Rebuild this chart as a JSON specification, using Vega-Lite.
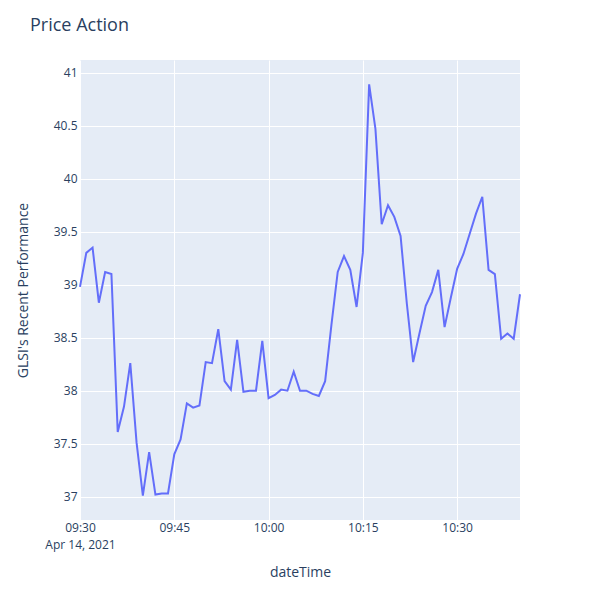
{
  "$schema": "https://vega.github.io/schema/vega-lite/v6.json",
  "width": 440,
  "height": 460,
  "autosize": {"type": "none"},
  "padding": {"left": 80, "top": 60, "right": 80, "bottom": 80},
  "background": "white",
  "title": {
    "text": "Price Action",
    "anchor": "start",
    "frame": "group",
    "dx": -50,
    "offset": 25,
    "font": "Open Sans",
    "fontSize": 18,
    "fontWeight": "normal",
    "color": "#2a3f5f"
  },
  "config": {
    "view": {"fill": "#e5ecf6", "stroke": null},
    "axis": {
      "domain": false,
      "ticks": false,
      "gridColor": "white",
      "gridWidth": 1,
      "labelFont": "Open Sans",
      "labelFontSize": 12,
      "labelColor": "#2a3f5f",
      "titleFont": "Open Sans",
      "titleFontSize": 14,
      "titleFontWeight": "normal",
      "titleColor": "#2a3f5f"
    }
  },
  "data": {
    "values": [
      {"t": "2021-04-14T09:30:00", "p": 38.98},
      {"t": "2021-04-14T09:31:00", "p": 39.30},
      {"t": "2021-04-14T09:32:00", "p": 39.35},
      {"t": "2021-04-14T09:33:00", "p": 38.83},
      {"t": "2021-04-14T09:34:00", "p": 39.12},
      {"t": "2021-04-14T09:35:00", "p": 39.10},
      {"t": "2021-04-14T09:36:00", "p": 37.61},
      {"t": "2021-04-14T09:37:00", "p": 37.85},
      {"t": "2021-04-14T09:38:00", "p": 38.26},
      {"t": "2021-04-14T09:39:00", "p": 37.51},
      {"t": "2021-04-14T09:40:00", "p": 37.01},
      {"t": "2021-04-14T09:41:00", "p": 37.42},
      {"t": "2021-04-14T09:42:00", "p": 37.02},
      {"t": "2021-04-14T09:43:00", "p": 37.03},
      {"t": "2021-04-14T09:44:00", "p": 37.03},
      {"t": "2021-04-14T09:45:00", "p": 37.40},
      {"t": "2021-04-14T09:46:00", "p": 37.54},
      {"t": "2021-04-14T09:47:00", "p": 37.88},
      {"t": "2021-04-14T09:48:00", "p": 37.84},
      {"t": "2021-04-14T09:49:00", "p": 37.86},
      {"t": "2021-04-14T09:50:00", "p": 38.27},
      {"t": "2021-04-14T09:51:00", "p": 38.26},
      {"t": "2021-04-14T09:52:00", "p": 38.58},
      {"t": "2021-04-14T09:53:00", "p": 38.09},
      {"t": "2021-04-14T09:54:00", "p": 38.01},
      {"t": "2021-04-14T09:55:00", "p": 38.48},
      {"t": "2021-04-14T09:56:00", "p": 37.99},
      {"t": "2021-04-14T09:57:00", "p": 38.00},
      {"t": "2021-04-14T09:58:00", "p": 38.00},
      {"t": "2021-04-14T09:59:00", "p": 38.47},
      {"t": "2021-04-14T10:00:00", "p": 37.93},
      {"t": "2021-04-14T10:01:00", "p": 37.96},
      {"t": "2021-04-14T10:02:00", "p": 38.01},
      {"t": "2021-04-14T10:03:00", "p": 38.00},
      {"t": "2021-04-14T10:04:00", "p": 38.18},
      {"t": "2021-04-14T10:05:00", "p": 38.00},
      {"t": "2021-04-14T10:06:00", "p": 38.00},
      {"t": "2021-04-14T10:07:00", "p": 37.97},
      {"t": "2021-04-14T10:08:00", "p": 37.95},
      {"t": "2021-04-14T10:09:00", "p": 38.09},
      {"t": "2021-04-14T10:10:00", "p": 38.62},
      {"t": "2021-04-14T10:11:00", "p": 39.12},
      {"t": "2021-04-14T10:12:00", "p": 39.27},
      {"t": "2021-04-14T10:13:00", "p": 39.14},
      {"t": "2021-04-14T10:14:00", "p": 38.79},
      {"t": "2021-04-14T10:15:00", "p": 39.30},
      {"t": "2021-04-14T10:16:00", "p": 40.89},
      {"t": "2021-04-14T10:17:00", "p": 40.47},
      {"t": "2021-04-14T10:18:00", "p": 39.57},
      {"t": "2021-04-14T10:19:00", "p": 39.75},
      {"t": "2021-04-14T10:20:00", "p": 39.64},
      {"t": "2021-04-14T10:21:00", "p": 39.46},
      {"t": "2021-04-14T10:22:00", "p": 38.82},
      {"t": "2021-04-14T10:23:00", "p": 38.27},
      {"t": "2021-04-14T10:24:00", "p": 38.54},
      {"t": "2021-04-14T10:25:00", "p": 38.80},
      {"t": "2021-04-14T10:26:00", "p": 38.93},
      {"t": "2021-04-14T10:27:00", "p": 39.14},
      {"t": "2021-04-14T10:28:00", "p": 38.60},
      {"t": "2021-04-14T10:29:00", "p": 38.88},
      {"t": "2021-04-14T10:30:00", "p": 39.15},
      {"t": "2021-04-14T10:31:00", "p": 39.29},
      {"t": "2021-04-14T10:32:00", "p": 39.48},
      {"t": "2021-04-14T10:33:00", "p": 39.67},
      {"t": "2021-04-14T10:34:00", "p": 39.83},
      {"t": "2021-04-14T10:35:00", "p": 39.14},
      {"t": "2021-04-14T10:36:00", "p": 39.10},
      {"t": "2021-04-14T10:37:00", "p": 38.49},
      {"t": "2021-04-14T10:38:00", "p": 38.54},
      {"t": "2021-04-14T10:39:00", "p": 38.49},
      {"t": "2021-04-14T10:40:00", "p": 38.91}
    ]
  },
  "mark": {"type": "line", "color": "#636efa", "strokeWidth": 2},
  "encoding": {
    "x": {
      "field": "t",
      "type": "temporal",
      "axis": {
        "title": "dateTime",
        "tickCount": 5,
        "labelExpr": "(hours(datum.value) == 9 && minutes(datum.value) == 30) ? [timeFormat(datum.value, '%H:%M'), 'Apr 14, 2021'] : timeFormat(datum.value, '%H:%M')",
        "labelPadding": 2,
        "labelLineHeight": 17,
        "labelAngle": 0,
        "labelAlign": "center",
        "labelFlush": false,
        "labelOverlap": false,
        "titleY": 45,
        "titleBaseline": "top"
      }
    },
    "y": {
      "field": "p",
      "type": "quantitative",
      "scale": {"domain": [36.78, 41.12], "nice": false, "zero": false},
      "axis": {
        "title": "GLSI's Recent Performance",
        "values": [37, 37.5, 38, 38.5, 39, 39.5, 40, 40.5, 41],
        "format": "~g",
        "labelPadding": 3,
        "titleX": -50,
        "titleY": 230,
        "titleAngle": -90,
        "titleAlign": "center",
        "titleBaseline": "bottom"
      }
    }
  }
}
